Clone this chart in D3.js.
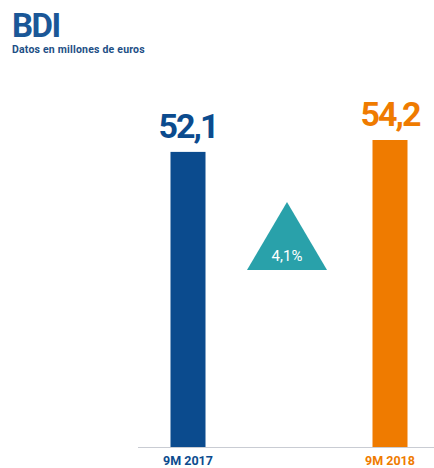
<!doctype html>
<html>
<head>
<meta charset="utf-8">
<script src="https://cdnjs.cloudflare.com/ajax/libs/d3/7.8.5/d3.min.js"></script>
<style>
  body { margin: 0; background: #fff; }
  text { font-family: Roboto, "DejaVu Sans", sans-serif; }
</style>
</head>
<body>
<svg id="chart" width="434" height="468"></svg>
<script>
// data
var categories = ["9M 2017", "9M 2018"];
var values = [52.1, 54.2];
var valueLabels = ["52,1", "54,2"];
var barColors = ["#0b4b8e", "#ef7b00"];
var changeLabel = "4,1%";

var svg = d3.select("#chart");

var x = d3.scalePoint().domain(categories).range([188, 390]);
var y = d3.scaleLinear().domain([0, 54.2]).range([447, 140]);
var barW = 35;

// title
svg.append("text").attr("x", 12).attr("y", 37)
  .style("font-size", "33px").style("font-weight", "700")
  .style("letter-spacing", "-1.5px")
  .style("fill", "#1a5797").text("BDI");
svg.append("text").attr("x", 12).attr("y", 53)
  .style("font-size", "10.5px").style("font-weight", "700")
  .style("letter-spacing", "0.2px")
  .style("fill", "#1d4f86").text("Datos en millones de euros");

// baseline
svg.append("line")
  .attr("x1", 138).attr("x2", 434)
  .attr("y1", y(0) + 0.5).attr("y2", y(0) + 0.5)
  .style("stroke", "#c9ccd3").style("stroke-width", 1);

// bars
svg.selectAll("rect.bar").data(values).enter().append("rect")
  .attr("class", "bar")
  .attr("x", (d, i) => x(categories[i]) - barW / 2)
  .attr("width", barW)
  .attr("y", d => y(d))
  .attr("height", d => y(0) - y(d))
  .style("fill", (d, i) => barColors[i]);

// value labels
svg.selectAll("text.val").data(values).enter().append("text")
  .attr("class", "val")
  .attr("x", (d, i) => x(categories[i]))
  .attr("y", d => y(d) - 14)
  .attr("text-anchor", "middle")
  .style("font-size", "34px").style("font-weight", "700")
  .style("letter-spacing", "-2px")
  .style("fill", (d, i) => barColors[i])
  .text((d, i) => valueLabels[i]);

// category labels
svg.selectAll("text.cat").data(categories).enter().append("text")
  .attr("class", "cat")
  .attr("x", d => x(d))
  .attr("y", 465)
  .attr("text-anchor", "middle")
  .style("font-size", "12.5px").style("font-weight", "700")
  .style("fill", (d, i) => barColors[i])
  .text(d => d);

// change triangle
var cx = (x(categories[0]) + x(categories[1])) / 2 - 2;
svg.append("path")
  .attr("d", d3.line()([[cx, 202], [cx + 40, 270], [cx - 40, 270]]) + "Z")
  .style("fill", "#29a1aa");
svg.append("text").attr("x", cx).attr("y", 261)
  .attr("text-anchor", "middle")
  .style("font-size", "15px").style("font-weight", "400")
  .style("fill", "#fff").text(changeLabel);
</script>
</body>
</html>
